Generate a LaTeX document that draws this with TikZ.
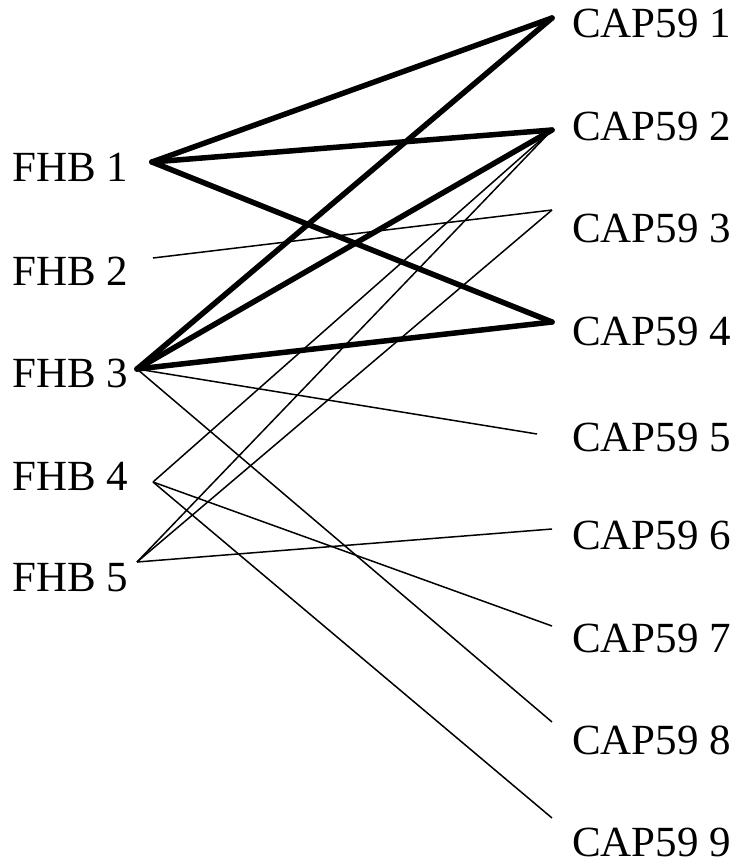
\documentclass[tikz,border=0pt]{standalone}
\usepackage{fontspec}
\setmainfont{Liberation Serif}
\begin{document}
\begin{tikzpicture}[x=1pt,y=-1pt,font=\fontsize{43}{50}\selectfont,
		lbl/.style={anchor=west, inner sep=0pt},
		strong/.style={line width=5.5pt, line cap=round, line join=round},
		weak/.style={line width=1.5pt}]
		\useasboundingbox (0,0) rectangle (738,865);
		
		\node[lbl] (fhb1) at (12,167) {FHB 1};
		\node[lbl] (fhb2) at (12,271) {FHB 2};
		\node[lbl] (fhb3) at (12,373) {FHB 3};
		\node[lbl] (fhb4) at (12,476) {FHB 4};
		\node[lbl] (fhb5) at (12,578) {FHB 5};
		
		\node[lbl] (cap1) at (572,23) {CAP59 1};
		\node[lbl] (cap2) at (572,126) {CAP59 2};
		\node[lbl] (cap3) at (572,228) {CAP59 3};
		\node[lbl] (cap4) at (572,331) {CAP59 4};
		\node[lbl] (cap5) at (572,437) {CAP59 5};
		\node[lbl] (cap6) at (572,535) {CAP59 6};
		\node[lbl] (cap7) at (572,638) {CAP59 7};
		\node[lbl] (cap8) at (572,740) {CAP59 8};
		\node[lbl] (cap9) at (572,842) {CAP59 9};
		
		\coordinate (l1) at (152,162);
		\coordinate (l2) at (153,258);
		\coordinate (l3) at (137,369);
		\coordinate (l4) at (153,482);
		\coordinate (l5) at (137,562);
		
		\coordinate (r1) at (552,18);
		\coordinate (r2) at (552,130);
		\coordinate (r3) at (552,210);
		\coordinate (r4) at (552,322);
		\coordinate (r5) at (537,434);
		\coordinate (r6) at (552,529);
		\coordinate (r7) at (552,626);
		\coordinate (r8) at (552,722);
		\coordinate (r9) at (552,818);
		
		\draw[weak] (l2) -- (r3);
		\draw[weak] (l3) -- (r5);
		\draw[weak] (l3) -- (r8);
		\draw[weak] (l4) -- (r2);
		\draw[weak] (l4) -- (r7);
		\draw[weak] (l4) -- (r9);
		\draw[weak] (l5) -- (r2);
		\draw[weak] (l5) -- (r3);
		\draw[weak] (l5) -- (r6);
		
		\draw[strong] (l1) -- (r1);
		\draw[strong] (l1) -- (r2);
		\draw[strong] (l1) -- (r4);
		\draw[strong] (l3) -- (r1);
		\draw[strong] (l3) -- (r2);
		\draw[strong] (l3) -- (r4);
	\end{tikzpicture}
\end{document}
